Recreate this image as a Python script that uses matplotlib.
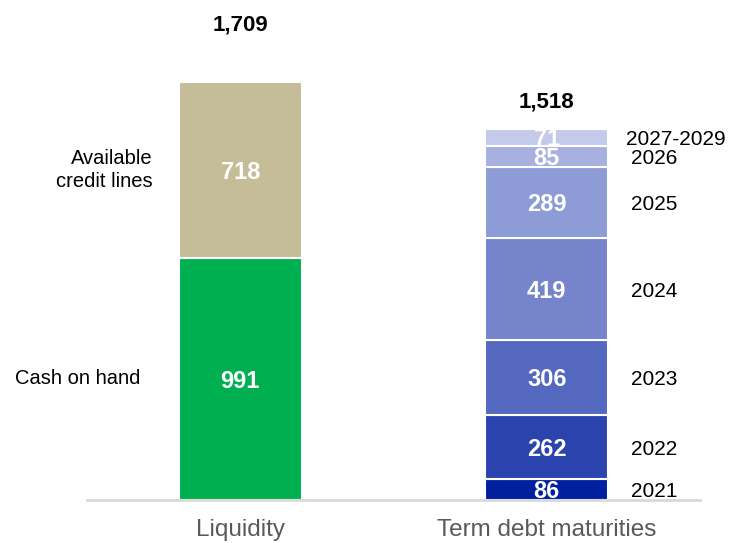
import matplotlib.pyplot as plt

plt.rcParams['font.family'] = ['Liberation Sans', 'DejaVu Sans']

categories = ['Liquidity', 'Term debt maturities']

liq_labels = ['Cash on hand', 'Available\ncredit lines']
liq_values = [991, 718]
liq_colors = ['#00B050', '#C4BD97']

debt_years = ['2021', '2022', '2023', '2024', '2025', '2026', '2027-2029']
debt_values = [86, 262, 306, 419, 289, 85, 71]
debt_colors = ['#0020A0', '#2B43AD', '#5468C0', '#7584CB', '#8D9BD6', '#A7B0DF', '#C4CAEA']

totals = [1709, 1518]

fig = plt.figure(figsize=(7.31, 5.43), dpi=100)
ax = fig.add_axes([87 / 731, 43 / 543, 613 / 731, 418 / 543])

w = 0.40
# side label right edges (axes x units)
liq_lab_x = [-0.325, -0.286]
bottom = 0
for lab, v, c, lx in zip(liq_labels, liq_values, liq_colors, liq_lab_x):
    ax.bar(0, v, w, bottom=bottom, color=c, edgecolor='white', linewidth=1.5)
    ax.text(0, bottom + v / 2 - 10, str(v), ha='center', va='center', color='white',
            fontsize=17, fontweight='bold')
    ax.text(lx, bottom + v / 2, lab, ha='right', va='center', color='black',
            fontsize=14.5, multialignment='right', linespacing=1.3)
    bottom += v

bottom = 0
for yr, v, c in zip(debt_years, debt_values, debt_colors):
    ax.bar(1, v, w, bottom=bottom, color=c, edgecolor='white', linewidth=1.5)
    ax.text(1, bottom + v / 2 - 10, str(v), ha='center', va='center', color='white',
            fontsize=17, fontweight='bold')
    xl = 1.275 if yr != '2027-2029' else 1.26
    ax.text(xl, bottom + v / 2 - 10, yr, ha='left', va='center', color='black', fontsize=15)
    bottom += v

total_offsets = [233, 109]
for i, (t, off) in enumerate(zip(totals, total_offsets)):
    ax.text(i, t + off, f'{t:,}', ha='center', va='center', color='black',
            fontsize=16, fontweight='bold')

ax.set_xlim(-0.5, 1.5)
ax.set_ylim(0, 1709)
for s in ['top', 'right', 'left']:
    ax.spines[s].set_visible(False)
ax.spines['bottom'].set_color('#D9D9D9')
ax.spines['bottom'].set_linewidth(2)
ax.set_yticks([])
ax.set_xticks([0, 1])
ax.set_xticklabels(categories, fontsize=17.5, color='#595959')
ax.tick_params(axis='x', length=0, pad=14)

fig.savefig('out.png', dpi=100)
